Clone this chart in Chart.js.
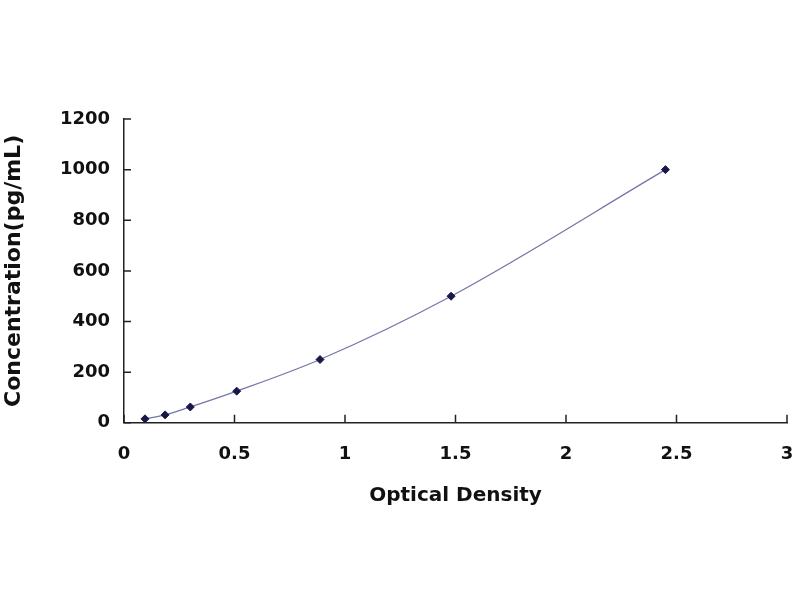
<!DOCTYPE html>
<html>
<head>
<meta charset="utf-8">
<script src="https://cdn.jsdelivr.net/npm/chart.js@4"></script>
<style>
html,body{margin:0;padding:0;background:#fff;}
#wrap{width:800px;height:600px;position:relative;}
</style>
</head>
<body>
<div id="wrap"><canvas id="c" width="800" height="600"></canvas></div>
<script>
const opticalDensity = [0.095, 0.186, 0.30, 0.51, 0.887, 1.48, 2.45];
const concentration = [15.6, 31.25, 62.5, 125, 250, 500, 1000];
const xTicks = [0, 0.5, 1, 1.5, 2, 2.5, 3];
const yTicks = [0, 200, 400, 600, 800, 1000, 1200];
const xTitle = 'Optical Density';
const yTitle = 'Concentration(pg/mL)';

const points = opticalDensity.map((x, i) => ({x: x, y: concentration[i]}));

const inwardTicks = {
  id: 'inwardTicks',
  afterDraw(chart) {
    const ctx = chart.ctx;
    const xs = chart.scales.x, ys = chart.scales.y;
    const area = chart.chartArea;
    ctx.save();
    ctx.strokeStyle = '#222';
    ctx.lineWidth = 1.5;
    ctx.beginPath();
    xTicks.forEach(v => {
      const px = xs.getPixelForValue(v);
      ctx.moveTo(px, area.bottom);
      ctx.lineTo(px, area.bottom - 8);
    });
    yTicks.forEach(v => {
      const py = ys.getPixelForValue(v);
      ctx.moveTo(area.left, py);
      ctx.lineTo(area.left + 7, py);
    });
    ctx.stroke();
    ctx.restore();
  }
};

new Chart(document.getElementById('c'), {
  type: 'scatter',
  data: {
    datasets: [{
      data: points,
      showLine: true,
      borderColor: '#7676aa',
      borderWidth: 1.3,
      cubicInterpolationMode: 'monotone',
      pointStyle: 'rectRot',
      pointRadius: 4,
      pointBackgroundColor: '#181848',
      pointBorderColor: '#181848',
      pointBorderWidth: 1
    }]
  },
  options: {
    responsive: false,
    animation: false,
    devicePixelRatio: 1,
    layout: {padding: {top: 119, right: 13, bottom: 92.6, left: 0}},
    plugins: {legend: {display: false}, tooltip: {enabled: false}},
    scales: {
      x: {
        type: 'linear',
        min: 0, max: 3,
        afterBuildTicks(scale) { scale.ticks = xTicks.map(v => ({value: v})); },
        afterFit(scale) { scale.paddingRight = 0; scale.paddingLeft = 0; },
        grid: {display: false, drawTicks: false},
        border: {display: true, color: '#222', width: 1.5},
        ticks: {
          padding: 21,
          color: '#111',
          font: {family: 'DejaVu Sans', weight: 'bold', size: 18},
          maxRotation: 0,
          callback: v => String(v)
        },
        title: {
          display: true,
          text: xTitle,
          color: '#111',
          font: {family: 'DejaVu Sans', weight: 'bold', size: 20},
          padding: {top: -3, bottom: 0}
        }
      },
      y: {
        type: 'linear',
        min: 0, max: 1200,
        afterBuildTicks(scale) { scale.ticks = yTicks.map(v => ({value: v})); },
        afterFit(scale) { scale.width = 124; },
        grid: {display: false, drawTicks: false},
        border: {display: true, color: '#222', width: 1.5},
        ticks: {
          padding: 14,
          color: '#111',
          font: {family: 'DejaVu Sans', weight: 'bold', size: 18},
          callback: v => String(v)
        },
        title: {
          display: true,
          text: yTitle,
          color: '#111',
          font: {family: 'DejaVu Sans', weight: 'bold', size: 22},
          padding: {top: 1, bottom: 0}
        }
      }
    }
  },
  plugins: [inwardTicks]
});
</script>
</body>
</html>
